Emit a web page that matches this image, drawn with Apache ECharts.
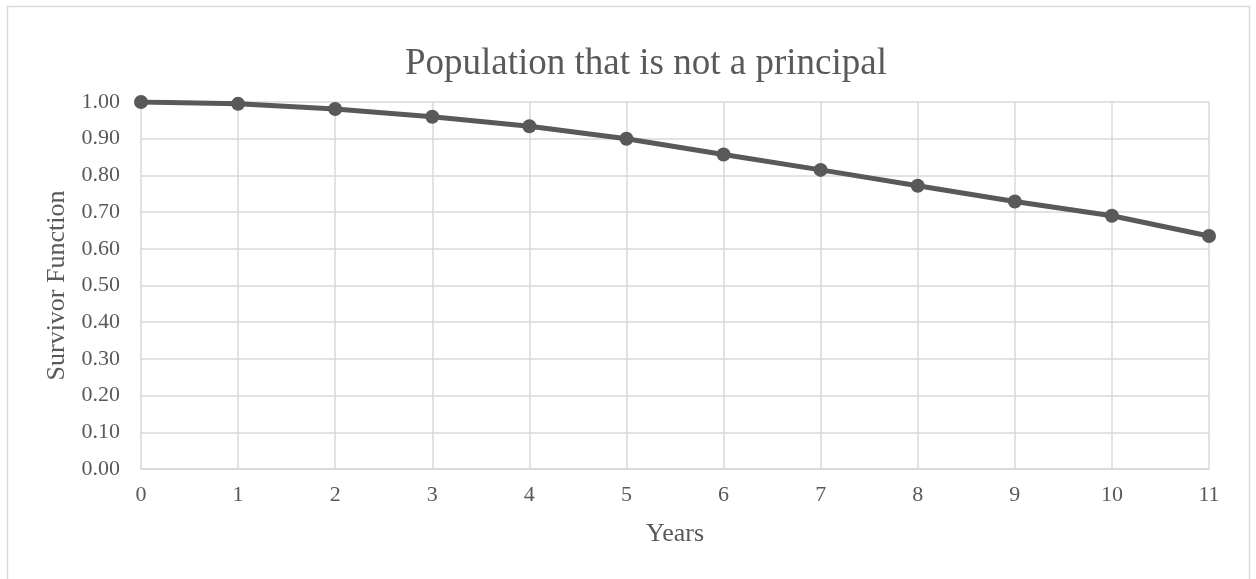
<!DOCTYPE html>
<html>
<head>
<meta charset="utf-8">
<script src="https://cdn.jsdelivr.net/npm/echarts@6/dist/echarts.min.js"></script>
<style>
  html, body { margin: 0; padding: 0; background: #fff; }
  #chart { width: 1256px; height: 579px; }
</style>
</head>
<body>
<div id="chart"></div>
<script>
// Survivor function by year
const years = [0, 1, 2, 3, 4, 5, 6, 7, 8, 9, 10, 11];
const survival = [1.000, 0.995, 0.981, 0.960, 0.934, 0.900, 0.857, 0.815, 0.772, 0.729, 0.690, 0.635];
const titleText = 'Population that is not a principal';
const xAxisName = 'Years';
const yAxisName = 'Survivor Function';

const font = 'Liberation Serif, Times New Roman, serif';
const textColor = '#595959';
const gridColor = '#d9d9d9';

const chart = echarts.init(document.getElementById('chart'), null, { renderer: 'canvas' });
chart.setOption({
  backgroundColor: '#ffffff',
  animation: false,
  graphic: [{
    type: 'rect',
    shape: { x: 7.5, y: 6.5, width: 1242, height: 600 },
    style: { fill: 'none', stroke: gridColor, lineWidth: 1.5 },
    silent: true
  }],
  title: {
    text: titleText,
    left: 400,
    top: 41,
    textStyle: { fontFamily: font, fontSize: 37, fontWeight: 'normal', color: textColor }
  },
  grid: { left: 141, right: 47, top: 102, bottom: 110, containLabel: false },
  xAxis: {
    type: 'value',
    min: 0, max: 11, interval: 1,
    name: xAxisName,
    nameLocation: 'middle',
    nameGap: 52,
    nameTextStyle: { fontFamily: font, fontSize: 26, color: textColor },
    axisLine: { show: true, lineStyle: { color: gridColor, width: 1.5 } },
    axisTick: { show: false },
    axisLabel: { fontFamily: font, fontSize: 22, color: textColor, margin: 15 },
    splitLine: { show: true, lineStyle: { color: gridColor, width: 1.5 } }
  },
  yAxis: {
    type: 'value',
    min: 0, max: 1, interval: 0.1,
    name: yAxisName,
    nameLocation: 'middle',
    nameGap: 70,
    nameTextStyle: { fontFamily: font, fontSize: 26, color: textColor },
    axisLine: { show: false },
    axisTick: { show: false },
    axisLabel: {
      fontFamily: font, fontSize: 22, color: textColor, margin: 21,
      formatter: v => v.toFixed(2)
    },
    splitLine: { show: true, lineStyle: { color: gridColor, width: 1.5 } }
  },
  series: [{
    type: 'line',
    data: years.map((x, i) => [x, survival[i]]),
    symbol: 'circle',
    symbolSize: 14,
    lineStyle: { color: '#595959', width: 5 },
    itemStyle: { color: '#595959' },
    emphasis: { disabled: true }
  }]
});
</script>
</body>
</html>
